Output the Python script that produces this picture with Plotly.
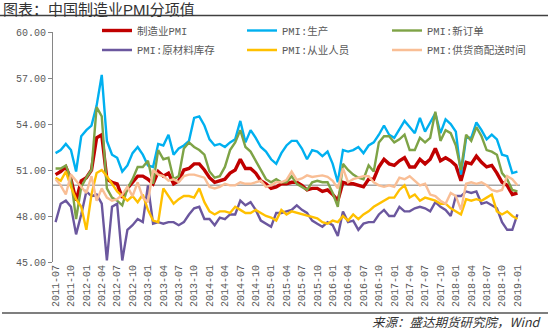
import pandas as pd
import plotly.graph_objects as go

# Months 2011-07 .. 2019-01
months = [p.strftime("%Y-%m") for p in pd.period_range("2011-07", "2019-01", freq="M")]
tick_labels = months[::3]

pmi = [50.7, 50.9, 51.2, 50.4, 49.0, 50.3,
       50.5, 51.0, 53.1, 53.3, 50.4, 50.2, 50.1, 49.2, 49.8, 50.2, 50.6, 50.6,
       50.4, 50.1, 50.9, 50.6, 50.8, 50.1, 50.3, 51.0, 51.1, 51.4, 51.4, 51.0,
       50.5, 50.2, 50.3, 50.4, 50.8, 51.0, 51.7, 51.1, 51.1, 50.8, 50.3, 50.1,
       49.8, 49.9, 50.1, 50.1, 50.2, 50.2, 50.0, 49.7, 49.8, 49.8, 49.6, 49.7,
       49.4, 49.0, 50.2, 50.1, 50.1, 50.0, 49.9, 50.4, 50.4, 51.2, 51.7, 51.4,
       51.3, 51.6, 51.8, 51.2, 51.2, 51.7, 51.4, 51.7, 52.4, 51.6, 51.8, 51.6,
       51.3, 50.3, 51.5, 51.4, 51.9, 51.5, 51.2, 51.3, 50.8, 50.2, 50.0, 49.4,
       49.5]

production = [52.1, 52.3, 52.7, 52.3, 50.9, 53.2,
              53.6, 53.9, 55.2, 57.2, 52.9, 52.0, 51.8, 50.9, 51.3, 52.1, 52.5, 52.0,
              51.3, 51.2, 52.7, 52.6, 53.3, 52.0, 52.4, 52.6, 52.9, 54.4, 54.5, 53.9,
              53.0, 52.6, 52.7, 52.5, 52.8, 53.0, 54.2, 52.8, 53.6, 53.1, 52.5, 52.2,
              51.7, 51.4, 52.1, 52.6, 52.9, 52.9, 52.4, 51.7, 52.3, 52.2, 51.9, 52.2,
              51.4, 50.2, 52.3, 52.2, 52.3, 52.5, 52.1, 52.6, 52.8, 53.3, 53.9, 53.3,
              53.1, 53.7, 54.2, 53.8, 53.4, 54.4, 53.5, 54.1, 54.7, 53.4, 54.3, 54.0,
              53.5, 50.7, 53.1, 53.1, 54.1, 53.6, 53.0, 53.3, 53.0, 52.0, 51.9, 50.8,
              50.9]

new_orders = [51.1, 51.1, 51.3, 50.4, 47.8, 49.9,
              50.5, 51.0, 55.1, 54.5, 49.8, 49.2, 49.0, 48.7, 49.8, 50.4, 51.2, 51.2,
              51.6, 50.1, 52.3, 51.7, 51.8, 50.4, 50.6, 52.4, 52.8, 52.5, 52.3, 52.0,
              50.9, 50.5, 50.6, 51.2, 52.3, 52.8, 53.6, 52.5, 52.2, 51.6, 50.9, 50.4,
              50.2, 50.4, 50.2, 50.2, 50.6, 50.1, 49.9, 49.7, 50.2, 50.3, 50.2, 50.2,
              49.5, 48.6, 51.4, 51.0, 50.7, 50.5, 50.4, 51.3, 50.9, 52.8, 53.2, 53.2,
              52.8, 53.0, 53.3, 52.3, 52.3, 53.1, 52.8, 53.1, 54.8, 52.9, 53.6, 53.4,
              52.6, 51.0, 53.3, 52.9, 53.8, 53.2, 52.3, 52.2, 52.0, 50.8, 50.4, 49.7,
              49.6]

raw_inventory = [47.6, 48.8, 49.0, 48.6, 46.8, 48.1,
                 49.6, 49.3, 49.4, 48.8, 45.1, 48.6, 48.8, 45.1, 47.1, 47.4, 47.8, 47.6,
                 50.0, 47.5, 47.6, 47.5, 47.6, 47.6, 47.4, 47.6, 48.1, 48.5, 48.6, 47.8,
                 47.8, 47.4, 47.9, 47.8, 48.1, 48.1, 49.0, 48.7, 48.9, 48.4, 47.7, 47.5,
                 47.3, 48.2, 48.2, 48.3, 48.4, 48.7, 48.4, 48.2, 47.7, 47.5, 47.3, 47.6,
                 47.4, 46.7, 48.3, 47.6, 47.7, 47.1, 47.5, 47.6, 47.6, 48.1, 48.4, 48.0,
                 48.0, 48.6, 48.3, 48.3, 48.5, 48.6, 48.5, 48.3, 48.9, 48.6, 48.4, 48.0,
                 49.3, 49.3, 49.6, 49.5, 49.6, 48.8, 48.9, 48.7, 48.5, 47.6, 47.1, 47.1,
                 48.1]

employment = [50.5, 50.3, 50.9, 49.9, 49.1, 48.6,
              47.1, 49.4, 50.8, 51.0, 50.6, 50.1, 49.6, 49.3, 49.0, 49.3, 48.9, 49.4,
              48.4, 47.7, 47.6, 49.8, 49.3, 48.8, 49.1, 49.3, 49.3, 49.2, 49.8, 48.9,
              48.3, 48.1, 48.3, 48.3, 48.2, 48.6, 48.4, 48.2, 48.2, 48.4, 48.2, 48.0,
              47.9, 47.7, 48.4, 48.1, 48.3, 48.2, 48.1, 48.0, 47.9, 47.85, 47.6, 47.5,
              47.7, 47.6, 48.0, 47.7, 48.1, 47.8, 48.1, 48.3, 48.6, 48.8, 49.0, 49.2,
              49.2, 49.7, 50.0, 49.2, 49.4, 49.0, 49.2, 49.1, 49.0, 48.8, 48.8, 48.5,
              48.3, 48.1, 49.1, 49.0, 49.1, 49.0, 49.2, 49.4, 48.3, 48.1, 48.3, 48.0,
              47.8]

delivery = [50.4, 50.0, 49.4, 50.7, 50.3, 49.9,
            49.5, 50.6, 49.0, 49.8, 49.2, 49.0, 49.1, 49.4, 49.9, 49.3, 50.2, 49.2,
            48.9, 51.0, 50.7, 50.6, 50.3, 50.4, 50.2, 50.6, 50.7, 50.7, 50.6, 50.5,
            49.9, 49.8, 49.9, 50.1, 50.0, 50.0, 50.2, 50.1, 50.1, 50.2, 50.3, 49.9,
            50.0, 50.2, 50.2, 50.35, 50.9, 50.35, 50.45, 50.65, 50.55, 50.6, 50.65, 50.55,
            50.3, 49.8, 51.1, 50.2, 50.4, 50.5, 50.6, 50.6, 50.2, 50.0, 49.9, 50.0,
            49.9, 50.5, 50.4, 50.6, 50.3, 50.0, 50.1, 49.4, 49.3, 49.0, 48.8, 49.5,
            49.3, 48.4, 50.1, 50.2, 50.1, 50.2, 50.0, 49.7, 49.6, 49.7, 50.6, 50.4,
            50.0]

series_names = ["制造业PMI", "PMI:生产", "PMI:新订单",
                "PMI:原材料库存", "PMI:从业人员", "PMI:供货商配送时间"]
series_values = [pmi, production, new_orders, raw_inventory, employment, delivery]
series_colors = ["#C00000", "#00B0F0", "#7EA346", "#6B579E", "#FFC000", "#F9BE95"]
series_widths = [3.4, 2.4, 2.4, 2.4, 2.4, 2.4]

W, H = 548, 330
L, R, T, B = 53, 28, 32, 68
PW, PH = W - L - R, H - T - B


def px(x):
    return (x - L) / PW


def py(y):
    return (H - B - y) / PH


# legend slots (left edge, top edge) in pixels: two rows of three
legend_slots = [(97, 16), (242, 16), (387, 16), (97, 35.5), (242, 35.5), (387, 35.5)]
legend_ids = ["legend", "legend2", "legend3", "legend4", "legend5", "legend6"]

fig = go.Figure()

for name, vals, col, lw, lid in zip(series_names, series_values, series_colors,
                                     series_widths, legend_ids):
    fig.add_trace(go.Scatter(x=months, y=vals, name=name, mode="lines",
                             line=dict(color=col, width=lw), legend=lid))

# reference line at 50
fig.add_shape(type="line", xref="paper", yref="y", x0=0, x1=1, y0=50, y1=50,
              line=dict(color="#A6A6A6", width=1.5), layer="below")

# heading rule and footer rule
fig.add_shape(type="line", xref="paper", yref="paper", x0=px(0), x1=px(W),
              y0=py(15.5), y1=py(15.5), line=dict(color="#404040", width=1.5))
fig.add_shape(type="line", xref="paper", yref="paper", x0=px(2), x1=px(W),
              y0=py(313), y1=py(313), line=dict(color="#7F7F7F", width=2))

fig.add_annotation(text="图表：中国制造业PMI分项值", xref="paper", yref="paper",
                   x=px(2), y=py(9.5), xanchor="left", yanchor="middle", showarrow=False,
                   borderpad=0,
                   font=dict(family="Liberation Sans, Noto Sans CJK SC", size=15,
                             color="#333333"))
fig.add_annotation(text="来源：盛达期货研究院，Wind", xref="paper", yref="paper",
                   x=px(543), y=py(321.5), xanchor="right", yanchor="middle", showarrow=False,
                   borderpad=0,
                   font=dict(family="Noto Sans CJK SC", size=12.5, color="#333333",
                             style="italic"))

tick_font = dict(family="Liberation Mono, Noto Sans CJK SC", size=10, color="#595959")
legend_font = dict(family="Liberation Mono, Noto Sans CJK SC", size=10.5, color="#595959")

layout_legends = {}
for lid, (lx, ly) in zip(legend_ids, legend_slots):
    layout_legends[lid] = dict(x=px(lx), y=py(ly), xanchor="left", yanchor="top",
                               orientation="h", itemwidth=30, font=legend_font,
                               bgcolor="rgba(0,0,0,0)", borderwidth=0)

fig.update_layout(
    width=W, height=H,
    margin=dict(l=L, r=R, t=T, b=B, pad=0),
    paper_bgcolor="white", plot_bgcolor="white",
    showlegend=True,
    xaxis=dict(type="category", range=[-0.5, len(months) - 0.5],
               tickmode="array", tickvals=tick_labels, ticktext=tick_labels,
               tickangle=-90, tickfont=tick_font, showgrid=False, showline=False,
               ticks="", zeroline=False),
    yaxis=dict(range=[45, 60], dtick=3, tick0=45, tickformat=".2f",
               tickfont=tick_font, showgrid=False, showline=True,
               linecolor="#868686", linewidth=1, ticks="outside", ticklen=4,
               tickcolor="#868686", zeroline=False),
    **layout_legends,
)

fig.write_html("out.html")
